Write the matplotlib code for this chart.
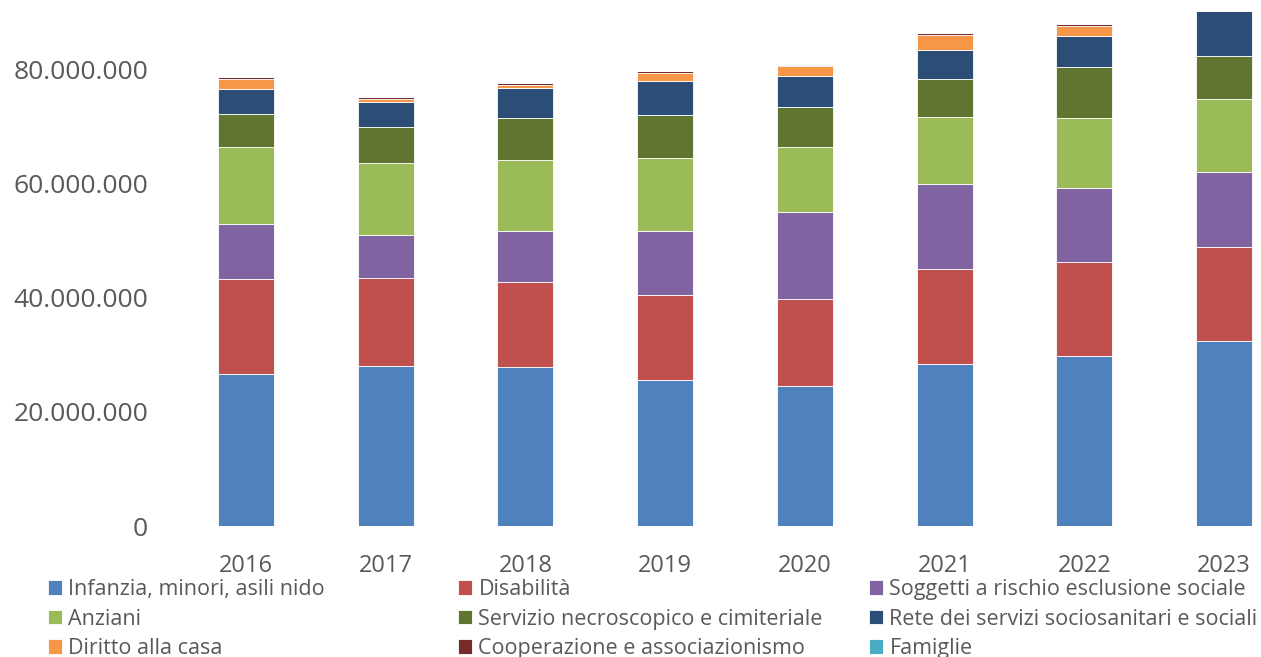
import matplotlib.pyplot as plt
import numpy as np
from matplotlib.ticker import FuncFormatter

years = ['2016', '2017', '2018', '2019', '2020', '2021', '2022', '2023']

# valori in milioni di euro
infanzia = [26.7, 28.0, 27.8, 25.5, 24.5, 28.3, 29.7, 32.4]
disabilita = [16.5, 15.4, 14.9, 14.9, 15.2, 16.7, 16.6, 16.4]
soggetti = [9.7, 7.6, 8.9, 11.2, 15.2, 14.9, 12.9, 13.2]
anziani = [13.5, 12.6, 12.5, 12.9, 11.5, 11.7, 12.3, 12.7]
necroscopico = [5.8, 6.2, 7.3, 7.4, 7.0, 6.6, 8.8, 7.6]
rete = [4.4, 4.5, 5.3, 6.1, 5.4, 5.1, 5.5, 8.0]
casa = [1.6, 0.5, 0.6, 1.3, 1.8, 2.7, 1.8, 2.0]
cooperazione = [0.35, 0.3, 0.3, 0.35, 0.17, 0.25, 0.35, 0.3]
famiglie = [0.0, 0.0, 0.0, 0.0, 0.0, 0.0, 0.0, 0.0]

labels = ['Infanzia, minori, asili nido', 'Disabilità',
          'Soggetti a rischio esclusione sociale', 'Anziani',
          'Servizio necroscopico e cimiteriale',
          'Rete dei servizi sociosanitari e sociali', 'Diritto alla casa',
          'Cooperazione e associazionismo', 'Famiglie']
series = [infanzia, disabilita, soggetti, anziani, necroscopico, rete,
          casa, cooperazione, famiglie]
colors = ['#4F81BD', '#C0504D', '#8064A2', '#9BBB59', '#5F7530',
          '#2C4D75', '#F79646', '#772C2A', '#4BACC6']

plt.rcParams['font.family'] = ['Open Sans', 'DejaVu Sans']

fig = plt.figure(figsize=(12.61, 6.57), dpi=100)
ax = fig.add_axes([176 / 1261, 131 / 657, 1118 / 1261, 514 / 657])

x = np.arange(len(years))
bottom = np.zeros(len(years))
handles = []
for vals, lab, col in zip(series, labels, colors):
    v = np.array(vals) * 1e6
    h = ax.bar(x, v, 0.4, bottom=bottom, color=col, edgecolor='white',
               linewidth=0.6, label=lab)
    handles.append(h)
    bottom += v

ax.set_xlim(-0.5, len(years) - 0.5)
ax.set_ylim(0, 90e6)
ax.set_yticks([0, 20e6, 40e6, 60e6, 80e6])
ax.yaxis.set_major_formatter(
    FuncFormatter(lambda v, p: f'{int(v):,}'.replace(',', '.')))
ax.set_xticks(x)
ax.set_xticklabels(years)
ax.tick_params(axis='both', length=0, colors='#595959')
ax.tick_params(axis='y', pad=20, labelsize=19)
ax.tick_params(axis='x', pad=20, labelsize=17)
for s in ax.spines.values():
    s.set_visible(False)

# legenda su tre colonne, riempita per righe
col_x = [48 / 1261, 458 / 1261, 869 / 1261]
for c in range(3):
    idx = [c, c + 3, c + 6]
    fig.legend([handles[i] for i in idx], [labels[i] for i in idx],
               loc='upper left', bbox_to_anchor=(col_x[c], 1 - 579 / 657),
               frameon=False, fontsize=15.5, handlelength=0.65,
               handleheight=0.65, handletextpad=0.3, labelspacing=0.4,
               borderpad=0, borderaxespad=0, labelcolor='#595959')

fig.savefig('out.png', dpi=100)
